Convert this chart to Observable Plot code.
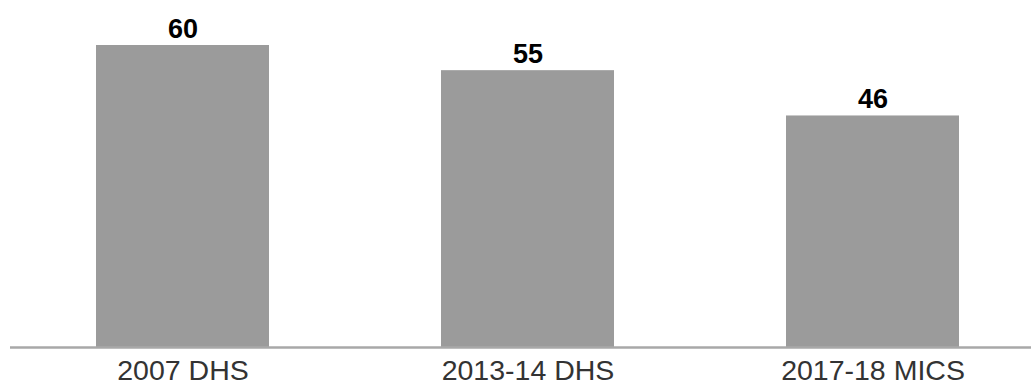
<!DOCTYPE html>
<html>
<head>
<meta charset="utf-8">
<script src="https://cdn.jsdelivr.net/npm/d3@7"></script>
<script src="https://cdn.jsdelivr.net/npm/@observablehq/plot@0.6"></script>
<style>
  html, body { margin: 0; padding: 0; background: #fff; }
  #chart svg { display: block; }
</style>
</head>
<body>
<div id="chart"></div>
<script>
const surveys = ["2007 DHS", "2013-14 DHS", "2017-18 MICS"];
const values = [60, 55, 46];

const data = surveys.map((s, i) => ({survey: s, value: values[i]}));

const chart = Plot.plot({
  width: 1031,
  height: 386,
  marginLeft: 10,
  marginRight: 0,
  marginTop: 0,
  marginBottom: 0,
  style: {fontFamily: "'Liberation Sans', Arial, sans-serif", background: "#fff"},
  x: {domain: surveys, range: [10, 1045], paddingInner: 0.5, paddingOuter: 0.25, axis: null},
  y: {domain: [0, 60], range: [347, 45], axis: null},
  marks: [
    Plot.barY(data, {x: "survey", y: "value", fill: "#9b9b9b"}),
    Plot.ruleY([0], {stroke: "#a8a8a8", strokeWidth: 2.5}),
    Plot.text(data, {x: "survey", y: "value", text: d => String(d.value), dy: -8, lineAnchor: "bottom", fontSize: 27, fontWeight: "bold", fill: "#000"}),
    Plot.text(data, {x: "survey", y: 0, text: "survey", dy: 32.5, lineAnchor: "bottom", fontSize: 28.5, fill: "#333"})
  ]
});
document.getElementById("chart").appendChild(chart);
</script>
</body>
</html>
